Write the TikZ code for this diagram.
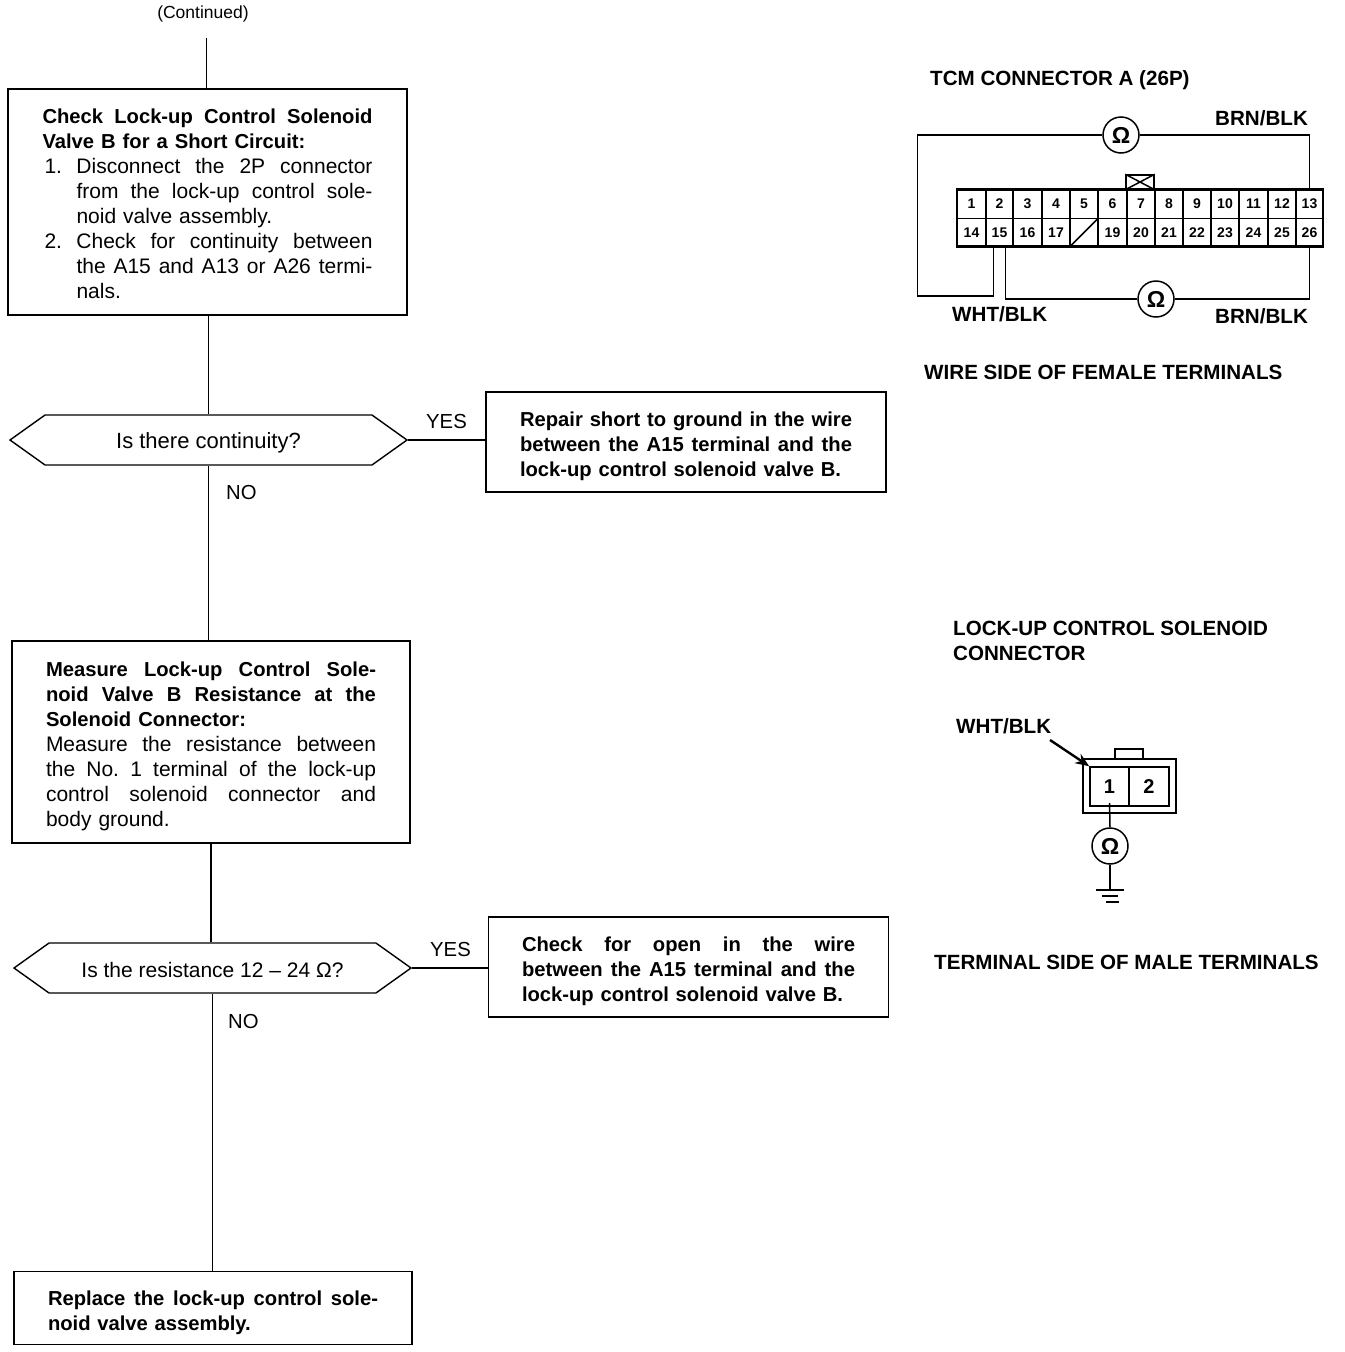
\documentclass[tikz,border=0pt]{standalone}
\usepackage{fontspec}
\setmainfont{Liberation Sans}
\usetikzlibrary{shapes.misc,arrows.meta}
\newcommand{\fitto}[2]{\makebox[#1pt][s]{\frenchspacing\spaceskip=0pt\xspaceskip=0pt #2}}
\newcommand{\jl}[1]{\fitto{330}{#1}}
\newcommand{\il}[1]{\makebox[34pt][l]{#1}}
\newcommand{\jj}[1]{\fitto{296}{#1}}
\newcommand{\bh}[1]{{\fontsize{20.2}{25}\selectfont\bfseries #1}}
\newcommand{\topst}[1]{\rule{0pt}{#1pt}}
\tikzset{
  x=1pt,y=-1pt,
  wire/.style={line width=1.5pt,line join=miter},
  textbox/.style={draw,line width=1.6pt,rectangle,inner sep=0pt,text width=330pt,align=left,font=\fontsize{21}{25}\selectfont},
  boldbox/.style={textbox,font=\fontsize{20.2}{25}\selectfont\bfseries},
  decision/.style={draw,line width=1.4pt,chamfered rectangle,chamfered rectangle angle=54.5,chamfered rectangle xsep=35pt,chamfered rectangle ysep=25pt,inner sep=0pt,minimum width=397pt,minimum height=50pt},
  lab/.style={anchor=base west,inner sep=0pt,font=\fontsize{20.3}{25}\selectfont},
  blab/.style={anchor=base west,inner sep=0pt,font=\fontsize{20.6}{25}\selectfont\bfseries},
  pin/.style={draw,line width=1.5pt,rectangle,inner sep=0pt,font=\fontsize{14}{14}\selectfont\bfseries},
  ohm/.style={draw,circle,line width=1.5pt,minimum size=36pt,inner sep=0pt,font=\fontsize{23}{23}\selectfont\bfseries},
}
\begin{document}
\begin{tikzpicture}
\useasboundingbox (0,0) rectangle (1344,1352);
% flow chart
\node[anchor=base,inner sep=0pt,font=\fontsize{17.5}{17.5}\selectfont] (cont) at (203,18) {(Continued)};
\coordinate (start) at (206.5,38);
\node[textbox,minimum width=399pt,minimum height=226pt] (b1) at (207.5,202) {%
\topst{18}\bh{\jl{Check Lock-up Control Solenoid}}\\
\bh{Valve B for a Short Circuit:}\\
\il{\hspace*{2pt}1.}\jj{Disconnect the 2P connector}\\
\hspace*{34pt}\jj{from the lock-up control sole-}\\
\hspace*{34pt}noid valve assembly.\\
\il{\hspace*{2pt}2.}\jj{Check for continuity between}\\
\hspace*{34pt}\jj{the A15 and A13 or A26 termi-}\\
\hspace*{34pt}nals.};
\node[decision,font=\fontsize{22}{25}\selectfont] (d1) at (208.5,440) {\smash{\raisebox{-8pt}{Is there continuity?}}};
\node[boldbox,text width=332pt,minimum width=400pt,minimum height=100pt] (r1) at (686,442) {%
\topst{22.6}\fitto{332}{Repair short to ground in the wire}\\
\fitto{332}{between the A15 terminal and the}\\
lock-up control solenoid valve B.};
\node[lab] (y1) at (426,428) {YES};
\node[lab] (n1) at (226,499) {NO};
\node[textbox,minimum width=398pt,minimum height=202pt] (b2) at (211,742) {%
\topst{23.6}\bh{\jl{Measure Lock-up Control Sole-}}\\
\bh{\jl{noid Valve B Resistance at the}}\\
\bh{Solenoid Connector:}\\
\jl{Measure the resistance between}\\
\jl{the No. 1 terminal of the lock-up}\\
\jl{control solenoid connector and}\\
body ground.};
\node[decision,font=\fontsize{21}{25}\selectfont] (d2) at (212.5,968) {\smash{\raisebox{-9pt}{Is the resistance 12 – 24 Ω?}}};
\node[boldbox,text width=333pt,minimum width=400pt,minimum height=100pt] (r2) at (688.5,967) {%
\topst{22.6}\fitto{333}{Check for open in the wire}\\
\fitto{333}{between the A15 terminal and the}\\
lock-up control solenoid valve B.};
\node[lab] (y2) at (430,956) {YES};
\node[lab] (n2) at (228,1028) {NO};
\node[boldbox,minimum width=398pt,minimum height=73pt] (b3) at (213,1308) {%
\topst{24.6}\jl{Replace the lock-up control sole-}\\
noid valve assembly.};
\draw[wire] (start) -- (start |- b1.north);
\draw[wire] (b1.south) -- (b1.south -| d1.north) -- (d1.north);
\draw[wire] (d1.east) -- (d1.east -| r1.west);
\draw[wire] (d1.south) -- (d1.south |- b2.north);
\draw[wire] (b2.south) -- (b2.south |- d2.north);
\draw[wire] (d2.east) -- (d2.east -| r2.west);
\draw[wire] (d2.south) -- (d2.south |- b3.north);
% TCM connector
\node[blab] (t1) at (930,85) {TCM CONNECTOR A (26P)};
\node[blab] (t2) at (1215,125) {BRN/BLK};
\node[blab] (t3) at (952,321) {WHT/BLK};
\node[blab] (t4) at (1215,323) {BRN/BLK};
\node[blab] (t5) at (924,379) {WIRE SIDE OF FEMALE TERMINALS};
% cells
\foreach \n/\xa/\xb/\lbl in {1/957/986/1,2/986/1013/2,3/1013/1042/3,4/1042/1070/4,5/1070/1098/5,6/1098/1127/6,7/1127/1155/7,8/1155/1183/8,9/1183/1211/9,10/1211/1239/10,11/1239/1268/11,12/1268/1296/12,13/1296/1323/13}
  \node[pin,minimum width={(\xb-\xa)*1pt},minimum height=29pt] (c\n) at ({(\xa+\xb)/2},204) {\lbl};
\foreach \n/\xa/\xb/\lbl in {14/957/986/14,15/986/1013/15,16/1013/1042/16,17/1042/1070/17,18/1070/1098/{},19/1098/1127/19,20/1127/1155/20,21/1155/1183/21,22/1183/1211/22,23/1211/1239/23,24/1239/1268/24,25/1268/1296/25,26/1296/1323/26}
  \node[pin,minimum width={(\xb-\xa)*1pt},minimum height=28pt] (c\n) at ({(\xa+\xb)/2},232.5) {\lbl};
\draw[wire] (c18.south west) -- (c18.north east);
\draw[line width=2.2pt] (957,189.5) rectangle (1323,246.5);
\node[draw,line width=1.5pt,rectangle,minimum width=28pt,minimum height=14pt,inner sep=0pt] (tab) at (1140,182) {};
\draw[wire] (tab.north west) -- (tab.south east) (tab.north east) -- (tab.south west);
\node[ohm] (o1) at (1121,135) {Ω};
\node[ohm] (o2) at (1156,299) {Ω};
\coordinate (lc) at (917.5,135);
\coordinate (lb) at (917.5,296);
\draw[wire] (o1.west) -- (lc) -- (lb) -| ([xshift=-6pt]c15.south);
\draw[wire] (o1.east) -| (c13.north);
\draw[wire] (o2.west) -| ([xshift=6pt]c15.south);
\draw[wire] (o2.east) -| (c26.south);
% solenoid connector
\node[anchor=west,inner sep=0pt,align=left,font=\fontsize{20.6}{25.5}\selectfont\bfseries] (s1) at (953,641) {LOCK-UP CONTROL SOLENOID\\CONNECTOR};
\node[blab] (s2) at (956,733) {WHT/BLK};
\node[blab] (s3) at (934,969) {TERMINAL SIDE OF MALE TERMINALS};
\node[draw,line width=1.5pt,rectangle,minimum width=28pt,minimum height=11pt,inner sep=0pt] (stab) at (1129,754.5) {};
\node[draw,line width=1.5pt,rectangle,fill=white,minimum width=93pt,minimum height=54pt,inner sep=0pt] (sout) at (1129.5,786) {};
\node[draw,line width=1.5pt,rectangle,minimum width=39pt,minimum height=39pt,inner sep=0pt,font=\fontsize{20}{20}\selectfont\bfseries] (p1) at (1109.5,786.5) {1};
\node[draw,line width=1.5pt,rectangle,minimum width=40pt,minimum height=39pt,inner sep=0pt,font=\fontsize{20}{20}\selectfont\bfseries] (p2) at (1149,786.5) {2};
\node[ohm] (o3) at (1110,846) {Ω};
\coordinate (gnd) at (1110,890);
\coordinate (arrowstart) at (1050,740);
\draw[wire] (p1.center |- 0,803) -- (o3.north);
\draw[wire] (o3.south) -- (gnd);
\draw[wire] ([xshift=-14pt]gnd) -- ([xshift=14pt]gnd);
\draw[wire] ([xshift=-8pt,yshift=-6pt]gnd) -- ([xshift=8pt,yshift=-6pt]gnd);
\draw[wire] ([xshift=-4pt,yshift=-12pt]gnd) -- ([xshift=9pt,yshift=-12pt]gnd);
\draw[line width=2.4pt,-{Stealth[length=14pt,width=11pt]}] (arrowstart) -- (p1.north west);
\end{tikzpicture}
\end{document}
